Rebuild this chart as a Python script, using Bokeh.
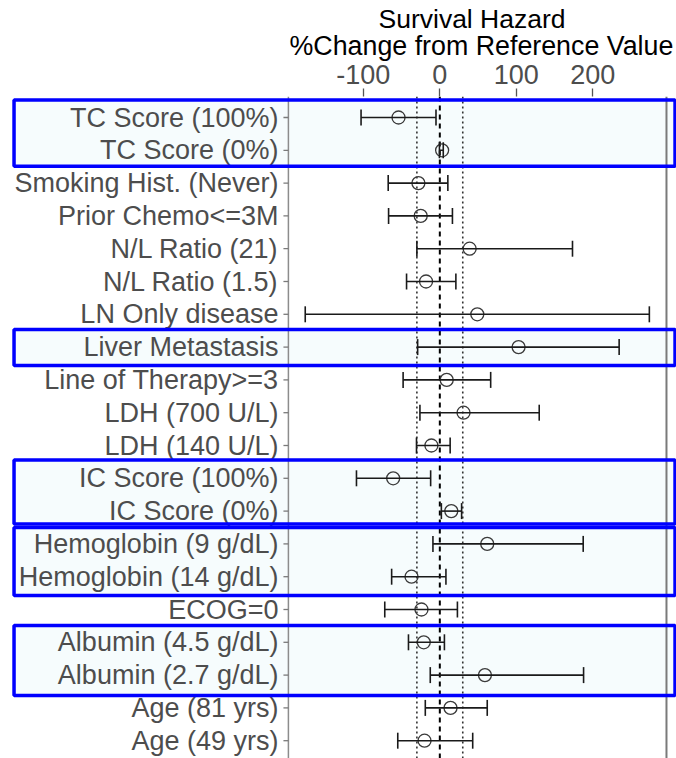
from bokeh.plotting import figure
from bokeh.models import Range1d, FixedTicker, LinearAxis, ColumnDataSource, Whisker, TeeHead, Title
from bokeh.core.properties import value
from bokeh.embed import file_html
from bokeh.resources import INLINE

# ---------------- data ----------------
labels = ["TC Score (100%)", "TC Score (0%)", "Smoking Hist. (Never)", "Prior Chemo<=3M",
          "N/L Ratio (21)", "N/L Ratio (1.5)", "LN Only disease", "Liver Metastasis",
          "Line of Therapy>=3", "LDH (700 U/L)", "LDH (140 U/L)", "IC Score (100%)",
          "IC Score (0%)", "Hemoglobin (9 g/dL)", "Hemoglobin (14 g/dL)", "ECOG=0",
          "Albumin (4.5 g/dL)", "Albumin (2.7 g/dL)", "Age (81 yrs)", "Age (49 yrs)"]
estimate = [-54, 3, -28, -25, 39, -18, 49, 103, 9, 31, -11, -61, 15, 62, -37, -24, -21, 59, 14, -20]
lower = [-103, -0.5, -67.5, -67, -30, -43.5, -176, -29, -48, -26, -30.5, -109, 2, -9, -63, -72, -41, -12.5, -19, -55]
upper = [-5, 4.5, 10.5, 16.5, 173.5, 21, 274, 234.5, 66.5, 130, 13.5, -12, 28.5, 187.5, 8, 23, 6, 188, 62, 43]
tick_values = [-100, 0, 100, 200]
tick_labels = ["-100", "0", "100", "200"]
reference_line = [0]
threshold_lines = [-30, 30]
title_lines = ["Survival Hazard", "%Change from Reference Value"]
highlight_groups = [("TC Score (100%)", "TC Score (0%)"), ("Liver Metastasis", "Liver Metastasis"),
                    ("IC Score (100%)", "IC Score (0%)"), ("Hemoglobin (9 g/dL)", "Hemoglobin (14 g/dL)"),
                    ("Albumin (4.5 g/dL)", "Albumin (2.7 g/dL)")]

# ---------------- layout constants ----------------
PX_PER_UNIT = 0.7647          # horizontal scale (px per % unit)
ROW_PX = 32.8                 # vertical px per row
W, H = 676, 758
TOP = 96                      # frame top (px from figure top)
X0 = -574.5                   # left edge of the canvas in data units
X1 = X0 + W / PX_PER_UNIT
PANEL_L, PANEL_R = -198.0, 296.4
LABEL_X = -211.0
Y_TOP = (117 - TOP) / ROW_PX
Y_BOT = Y_TOP - (H - TOP) / ROW_PX
FONT = value("Liberation Sans")
box_pads = [(0.53, 0.49), (0.54, 0.56), (0.56, 0.39), (0.50, 0.57), (0.51, 0.62)]
title_style = [(378, -12.6, "26.5px"), (289, 2, "26.8px")]   # (left offset, standoff, size)

ys = [-i for i in range(len(labels))]
src = ColumnDataSource(dict(y=ys, est=estimate, lo=lower, hi=upper, lab=labels))

p = figure(width=W, height=H, output_backend="svg", toolbar_location=None,
           x_range=Range1d(X0, X1), y_range=Range1d(Y_BOT, Y_TOP),
           x_axis_location=None, y_axis_location=None,
           min_border_left=0, min_border_right=0, min_border_bottom=0, min_border_top=TOP)
p.outline_line_color = None
p.xgrid.visible = False
p.ygrid.visible = False
p.background_fill_color = "white"
p.border_fill_color = "white"

# highlight boxes
bl, br, bt, bb = [], [], [], []
for (a, b), (pt, pb) in zip(highlight_groups, box_pads):
    ia, ib = labels.index(a), labels.index(b)
    bl.append(-556.8); br.append(307.6)
    bt.append(-ia + pt); bb.append(-ib - pb)
p.quad(left=bl, right=br, top=bt, bottom=bb, fill_color="#F6FCFD", line_color=None)

# panel side lines
p.segment(x0=[PANEL_L], x1=[PANEL_L], y0=[Y_TOP], y1=[Y_BOT], line_color="#8C8C8C", line_width=1.5)
p.segment(x0=[PANEL_R], x1=[PANEL_R], y0=[Y_TOP], y1=[Y_BOT], line_color="#7A7A7A", line_width=2)

# y tick marks
p.segment(x0=[PANEL_L - 6.5] * len(ys), x1=[PANEL_L] * len(ys), y0=ys, y1=ys,
          line_color="#7A7A7A", line_width=1.3)

# reference lines
p.segment(x0=reference_line, x1=reference_line, y0=[Y_TOP], y1=[Y_BOT],
          line_color="black", line_width=2, line_dash="5 4")
p.segment(x0=threshold_lines, x1=threshold_lines, y0=[Y_TOP] * 2, y1=[Y_BOT] * 2,
          line_color="#333333", line_width=1.6, line_dash="2 3")

# points and error bars
p.scatter(x="est", y="y", source=src, marker="circle", size=13,
          fill_color=None, line_color="#3A3A3A", line_width=1.3)
w = Whisker(base="y", lower="lo", upper="hi", dimension="width", source=src,
            line_color="#1A1A1A", line_width=1.6,
            lower_head=TeeHead(size=16, line_color="#1A1A1A", line_width=1.6),
            upper_head=TeeHead(size=16, line_color="#1A1A1A", line_width=1.6))
w.level = "annotation"
p.add_layout(w)

# row labels
p.text(x=LABEL_X, y="y", text="lab", source=src, text_align="right", text_baseline="middle",
       text_font=FONT, text_font_size="27px", text_color="#4D4D4D")

# box outlines on top
r = p.quad(left=bl, right=br, top=bt, bottom=bb, fill_color=None, line_color="#0000FF", line_width=3.5)
r.level = "overlay"

# top axis
ax = LinearAxis(ticker=FixedTicker(ticks=tick_values),
                major_label_overrides={v: s for v, s in zip(tick_values, tick_labels)})
ax.axis_line_color = None
ax.minor_tick_line_color = None
ax.major_tick_in = 0
ax.major_tick_out = 8
ax.major_tick_line_color = "#555555"
ax.major_tick_line_width = 1.3
ax.major_label_standoff = 5
ax.major_label_text_font = "Liberation Sans"
ax.major_label_text_font_size = "27px"
ax.major_label_text_color = "#4D4D4D"
p.add_layout(ax, "above")

# title: two lines stacked above the axis (second line closest to the axis)
for txt, (off, so, fs) in reversed(list(zip(title_lines, title_style))):
    p.add_layout(Title(text=txt, align="left", offset=off, standoff=so,
                       text_font="Liberation Sans", text_font_size=fs,
                       text_font_style="normal", text_color="black"), "above")

open("out.html", "w").write(file_html(p, INLINE))
